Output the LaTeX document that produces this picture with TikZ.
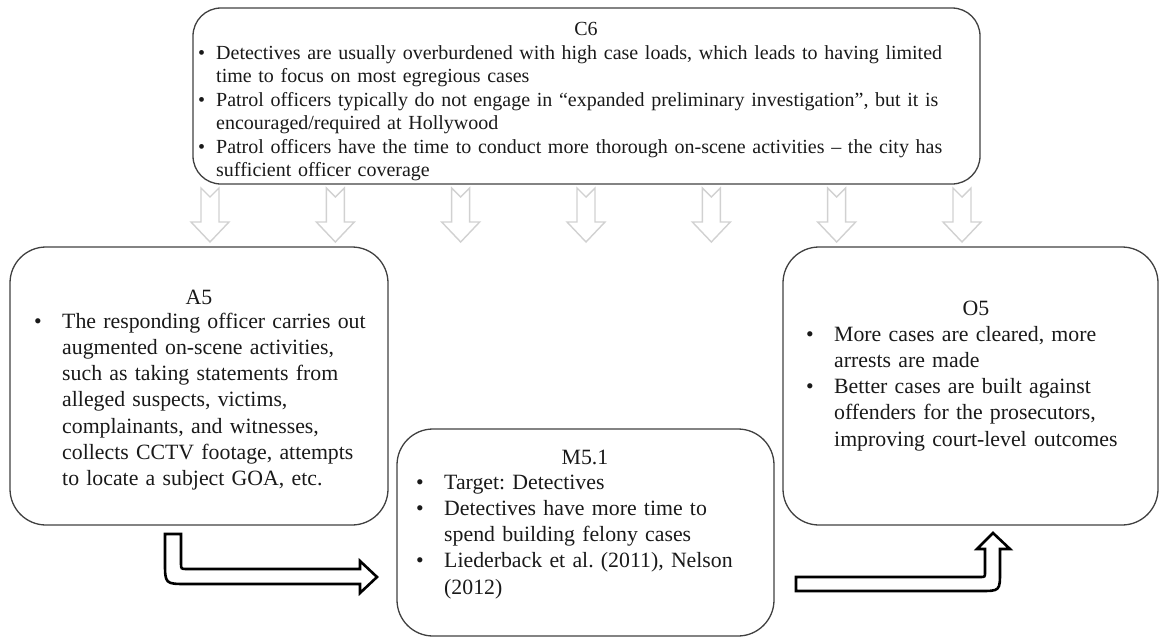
\documentclass[tikz,border=0pt]{standalone}
\usepackage{fontspec}
\setmainfont{Liberation Serif}
\frenchspacing
\newcommand{\bul}[1]{\makebox[#1pt][l]{\textbullet}}
\begin{document}
\begin{tikzpicture}[x=1pt,y=-1pt,
  box/.style={draw=black!75, line width=1.3pt, rounded corners=#1pt, inner sep=0pt},
  ttl/.style={anchor=base, inner sep=0pt, text=black!90, font=\fontsize{21.8}{26.3}\selectfont},
  body/.style={anchor=base west, inner sep=0pt, align=left, text width=#1pt, text=black!90, font=\fontsize{21.8}{26.3}\selectfont\frenchspacing},
  cbody/.style={anchor=base west, inner sep=0pt, align=left, text width=#1pt, text=black!90, font=\fontsize{20}{23.5}\selectfont\frenchspacing},
  grayarrow/.style={draw=black!18, line width=1.4pt, line join=miter},
  blockarrow/.style={draw=black, fill=white, line width=2.6pt, line join=miter}
]
\useasboundingbox (0,0) rectangle (1159,637);

% boxes
\node[box=28, minimum width=787pt, minimum height=176pt] (C6) at (586.5,96) {};
\node[box=36, minimum width=378pt, minimum height=278pt] (A5) at (199,386) {};
\node[box=36, minimum width=377pt, minimum height=207pt] (M51) at (585.5,532.5) {};
\node[box=36, minimum width=375pt, minimum height=278pt] (O5) at (970.5,386) {};

% C6 text
\node[ttl, font=\fontsize{20}{23.5}\selectfont] (C6t) at (586,35.5) {C6};
\node[cbody=740] (C6b) at (198,59) {%
\bul{18}\makebox[707pt][s]{Detectives are usually overburdened with high case loads, which leads to having limited}\\
\hspace*{18pt}time to focus on most egregious cases\\
\bul{18}\makebox[707pt][s]{Patrol officers typically do not engage in “expanded preliminary investigation”, but it is}\\
\hspace*{18pt}encouraged/required at Hollywood\\
\bul{18}\makebox[707pt][s]{Patrol officers have the time to conduct more thorough on-scene activities – the city has}\\
\hspace*{18pt}sufficient officer coverage};

% A5 text
\node[ttl] (A5t) at (199,304) {A5};
\node[body=340] (A5b) at (34,328) {%
\bul{28}The responding officer carries out\\
\hspace*{28pt}augmented on-scene activities,\\
\hspace*{28pt}such as taking statements from\\
\hspace*{28pt}alleged suspects, victims,\\
\hspace*{28pt}complainants, and witnesses,\\
\hspace*{28pt}collects CCTV footage, attempts\\
\hspace*{28pt}to locate a subject GOA, etc.};

% M5.1 text
\node[ttl] (M51t) at (585,464) {M5.1};
\node[body=340] (M51b) at (416,489) {%
\bul{28}Target: Detectives\\
\bul{28}Detectives have more time to\\
\hspace*{28pt}spend building felony cases\\
\bul{28}Liederback et al. (2011), Nelson\\
\hspace*{28pt}(2012)};

% O5 text
\node[ttl] (O5t) at (976,315.5) {O5};
\node[body=340] (O5b) at (806,341) {%
\bul{28}More cases are cleared, more\\
\hspace*{28pt}arrests are made\\
\bul{28}Better cases are built against\\
\hspace*{28pt}offenders for the prosecutors,\\
\hspace*{28pt}improving court-level outcomes};

% gray notched arrows from C6
\foreach \cx in {210,335.33,460.67,586,711.33,836.67,962}{
  \draw[grayarrow] (\cx-9,188) -- (\cx,197) -- (\cx+9,188) -- (\cx+9,222) -- (\cx+19,222)
    -- (\cx,242) -- (\cx-19,222) -- (\cx-9,222) -- cycle;
}

% block arrow A5 -> M5.1
\draw[blockarrow] (165,534) -- (181,534) -- (181,563) .. controls (181,569) .. (187,569)
  -- (360,569) -- (360,561) -- (377,577) -- (360,593) -- (360,584) -- (187,584)
  .. controls (165,584) .. (165,562) -- cycle;

% block arrow M5.1 -> O5
\draw[blockarrow] (796,577) -- (980,577) .. controls (985,577) .. (985,572) -- (985,549)
  -- (977,549) -- (993,533) -- (1010,549) -- (1000,549) -- (1000,571)
  .. controls (1000,591) .. (980,591) -- (796,591) -- cycle;
\end{tikzpicture}
\end{document}
